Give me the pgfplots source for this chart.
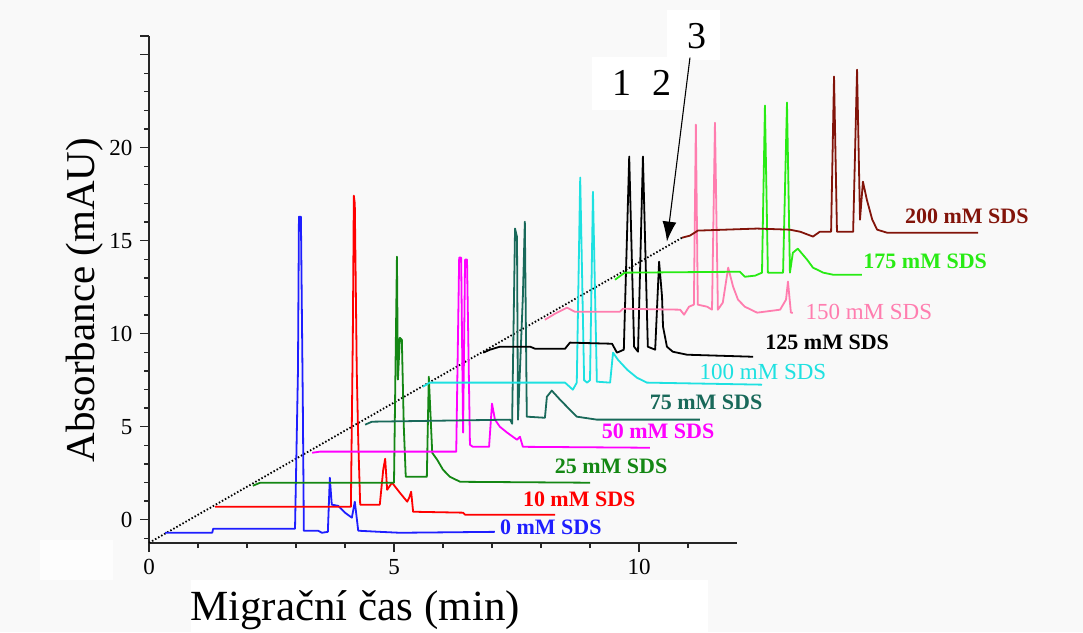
\documentclass[border=0pt]{standalone}
\usepackage{pgfplots}
\pgfplotsset{compat=1.18}
\usepackage{fontspec}
\setmainfont{Liberation Serif}
\usetikzlibrary{arrows.meta}
\definecolor{c0}{RGB}{30,30,255}
\definecolor{c10}{RGB}{255,0,0}
\definecolor{c25}{RGB}{20,135,20}
\definecolor{c50}{RGB}{255,0,255}
\definecolor{c75}{RGB}{25,105,90}
\definecolor{c100}{RGB}{30,225,225}
\definecolor{c125}{RGB}{0,0,0}
\definecolor{c150}{RGB}{255,125,175}
\definecolor{c175}{RGB}{40,235,20}
\definecolor{c200}{RGB}{130,20,10}
\definecolor{bg}{RGB}{249,249,249}
\begin{document}
\begin{tikzpicture}
\path[use as bounding box, fill=bg] (0pt,0pt) rectangle (1083pt,632pt);
\fill[white] (191pt,0pt) rectangle (708pt,52pt);
\fill[white] (592pt,522pt) rectangle (680pt,575pt);
\fill[white] (667pt,572pt) rectangle (720pt,622pt);
\fill[white!60!bg] (40pt,52pt) rectangle (113pt,92pt);
\node[rotate=90, font=\fontsize{41}{41}\selectfont] at (85pt,332pt) {Absorbance (mAU)};
\node[font=\fontsize{43}{43}\selectfont] at (355pt,22pt) {Migrační čas (min)};
\begin{axis}[
  at={(149pt,89pt)}, anchor=south west,
  scale only axis, width=588pt, height=507pt,
  xmin=0, xmax=12, ymin=-1.25, ymax=26,
  axis x line*=bottom, axis y line*=left,
  axis line style={line width=1.6pt, black!85},
  clip=false,
  tick align=outside,
  major tick length=9pt, minor tick length=5pt,
  every tick/.style={line width=1.3pt, black!85},
  xtick={0,5,10}, minor xtick={1,2,3,4,6,7,8,9,11},
  ytick={0,5,10,15,20,25,26}, yticklabels={0,5,10,15,20,{},{}},
  minor ytick={-1,1,2,3,4,6,7,8,9,11,12,13,14,16,17,18,19,21,22,23,24},
  tick label style={font=\fontsize{23}{23}\selectfont},
  /pgf/number format/assume math mode=true,
  xticklabel style={yshift=-4pt},
  yticklabel style={xshift=-4pt},
  every axis plot/.append style={line width=1.8pt, line join=round},
]
\addplot[black, line width=1.8pt, dash pattern=on 1.5pt off 2pt] coordinates {(0,-1.24) (10.88,15.16)};
\addplot[c0] coordinates {(0.33,-0.70) (1.29,-0.70) (1.31,-0.48) (2.98,-0.48) (3.04,8) (3.06,16.29) (3.10,16.29) (3.14,6) (3.16,-0.59) (3.45,-0.59) (3.53,-0.70) (3.65,-0.65) (3.69,2.26) (3.73,0.81) (3.86,0.75) (4.00,0.38) (4.14,0.11) (4.20,0.97) (4.27,-0.59) (4.71,-0.65) (5.12,-0.70) (7.06,-0.65)};
\addplot[c10] coordinates {(1.35,0.70) (4.12,0.70) (4.16,10) (4.18,17.42) (4.20,17.0) (4.24,8) (4.27,4.30) (4.31,0.81) (4.71,0.81) (4.78,2.69) (4.82,3.28) (4.86,1.61) (4.96,1.99) (5.12,1.45) (5.27,0.97) (5.31,1.18) (5.35,1.51) (5.39,0.43) (6.41,0.38) (6.45,0.27) (8.29,0.27)};
\addplot[c25] coordinates {(2.12,1.83) (2.27,1.99) (5.00,1.99) (5.06,14.14) (5.08,7.53) (5.12,9.78) (5.16,9.68) (5.20,5) (5.24,2.31) (5.67,2.31) (5.71,7.69) (5.78,3.60) (5.88,3.23) (6.00,2.69) (6.14,2.31) (6.35,2.04) (9.00,1.99)};
\addplot[c50] coordinates {(3.33,3.60) (3.49,3.66) (6.27,3.66) (6.33,14.09) (6.37,14.09) (6.41,4.68) (6.45,13.98) (6.49,13.98) (6.55,4.03) (6.61,3.92) (6.94,3.92) (7.00,6.24) (7.06,5.38) (7.16,5.00) (7.31,4.68) (7.51,4.30) (7.57,4.46) (7.63,3.92) (10.22,3.87)};
\addplot[c75] coordinates {(4.41,5.11) (4.55,5.27) (7.37,5.38) (7.41,5.16) (7.47,15.65) (7.51,15.2) (7.53,5.38) (7.63,12) (7.67,16.02) (7.71,5.54) (8.08,5.48) (8.12,6.61) (8.22,6.94) (8.39,6.45) (8.59,5.91) (8.73,5.54) (9.14,5.38) (11.24,5.38)};
\addplot[c100] coordinates {(5.59,7.15) (5.73,7.37) (8.49,7.37) (8.65,6.99) (8.73,7.37) (8.80,18.39) (8.88,7.5) (8.94,7.37) (9.00,7.5) (9.06,17.63) (9.14,7.42) (9.41,7.37) (9.47,8.98) (9.57,8.60) (9.76,8.06) (9.96,7.63) (10.16,7.37) (12.51,7.26)};
\addplot[c125] coordinates {(6.82,8.98) (6.96,9.14) (7.16,9.30) (7.78,9.30) (7.88,9.19) (8.49,9.19) (8.59,9.52) (9.45,9.46) (9.55,8.98) (9.69,9.14) (9.80,19.52) (9.90,9.3) (9.98,9.03) (10.08,19.52) (10.18,9.3) (10.33,9.14) (10.41,13.87) (10.47,11.99) (10.49,10.38) (10.57,9.30) (10.69,9.03) (10.98,8.87) (12.33,8.76)};
\addplot[c150] coordinates {(8.08,10.75) (8.29,11.08) (8.53,11.40) (8.69,11.18) (9.61,11.18) (9.67,11.34) (10.84,11.29) (10.92,11.02) (11.02,11.45) (11.12,11.56) (11.16,21.24) (11.20,11.56) (11.39,11.45) (11.49,11.29) (11.55,21.34) (11.61,11.29) (11.71,11.67) (11.82,13.55) (11.92,12.53) (12.02,11.83) (12.16,11.45) (12.41,11.13) (12.88,11.29) (13.00,11.83) (13.04,12.80) (13.10,11.13) (13.14,11.13)};
\addplot[c175] coordinates {(9.51,12.90) (9.71,13.28) (12.06,13.33) (12.16,13.06) (12.37,13.12) (12.51,13.28) (12.57,22.26) (12.63,13.28) (12.94,13.28) (13.02,22.42) (13.08,13.28) (13.14,14.35) (13.24,14.57) (13.43,13.98) (13.55,13.55) (13.76,13.28) (13.96,13.17) (14.55,13.17)};
\addplot[c200] coordinates {(10.88,15.16) (11.04,15.27) (11.20,15.54) (12.41,15.65) (13.08,15.59) (13.29,15.48) (13.55,15.22) (13.69,15.48) (13.92,15.48) (13.98,23.82) (14.04,15.48) (14.37,15.48) (14.45,24.19) (14.51,16.13) (14.55,17.5) (14.57,18.17) (14.65,17.20) (14.76,16.13) (14.86,15.59) (15.06,15.43) (16.92,15.43)};
\draw[-{Latex[length=20pt,width=14pt]}, line width=1.1pt] (axis cs:11.04,24.84) -- (axis cs:10.57,14.95);
\node[font=\fontsize{38}{38}\selectfont] at (axis cs:9.65,23.49) {1};
\node[font=\fontsize{38}{38}\selectfont] at (axis cs:10.47,23.49) {2};
\node[font=\fontsize{38}{38}\selectfont] at (axis cs:11.18,25.97) {3};
\begin{scope}[every node/.style={font=\fontsize{22}{22}\selectfont\bfseries}]
\node[text=c200] at (axis cs:16.69,16.29) {200 mM SDS};
\node[text=c175] at (axis cs:15.84,13.87) {175 mM SDS};
\node[text=c150, font=\fontsize{23}{23}\selectfont] at (axis cs:14.69,11.18) {150 mM SDS};
\node[text=c125] at (axis cs:13.84,9.52) {125 mM SDS};
\node[text=c100, font=\fontsize{23}{23}\selectfont] at (axis cs:12.53,7.96) {100 mM SDS};
\node[text=c75] at (axis cs:11.37,6.29) {75 mM SDS};
\node[text=c50] at (axis cs:10.39,4.73) {50 mM SDS};
\node[text=c25] at (axis cs:9.43,2.85) {25 mM SDS};
\node[text=c10] at (axis cs:8.78,1.08) {10 mM SDS};
\node[text=c0] at (axis cs:8.20,-0.43) {0 mM SDS};
\end{scope}
\end{axis}
\end{tikzpicture}
\end{document}
